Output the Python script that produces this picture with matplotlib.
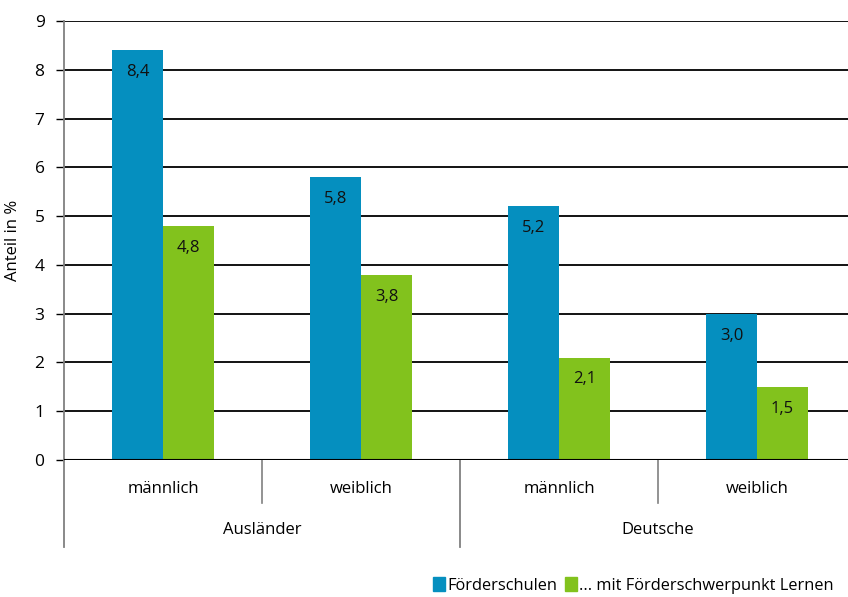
import matplotlib.pyplot as plt
import matplotlib.patches as mpatches
import matplotlib.transforms as mtransforms
import numpy as np

plt.rcParams['font.family'] = ['Open Sans', 'DejaVu Sans']

# ── Daten ─────────────────────────────────
untergruppen = ['männlich', 'weiblich', 'männlich', 'weiblich']
gruppen = ['Ausländer', 'Deutsche']
foerderschulen = [8.4, 5.8, 5.2, 3.0]
lernen = [4.8, 3.8, 2.1, 1.5]
serien = ['Förderschulen', '... mit Förderschwerpunkt Lernen']

c_blau = '#058fbf'
c_gruen = '#82c21d'

W, H = 848, 597
fig = plt.figure(figsize=(W / 100, H / 100), dpi=100)
ax = fig.add_axes([64 / W, 1 - 460 / H, 784 / W, (460 - 21) / H])

x = np.arange(len(untergruppen))
bw = 51 / 198
b1 = ax.bar(x - bw / 2, foerderschulen, bw, color=c_blau, zorder=3)
b2 = ax.bar(x + bw / 2, lernen, bw, color=c_gruen, zorder=3)

for bars, vals in [(b1, foerderschulen), (b2, lernen)]:
    for bar, v in zip(bars, vals):
        ax.annotate(f'{v:.1f}'.replace('.', ','),
                    (bar.get_x() + bar.get_width() / 2, v),
                    xytext=(0, -10), textcoords='offset points',
                    ha='center', va='top', fontsize=12, color='#111111', zorder=4)

ax.set_xlim(-0.5, -0.5 + 784 / 198)
ax.set_ylim(0, 9)
ax.set_yticks(range(10))
ax.tick_params(axis='y', labelsize=12.5, length=6, width=1, color='black', pad=8)
ax.set_xticks([])
ax.yaxis.grid(True, color='black', linewidth=1.3, zorder=0)
ax.set_axisbelow(True)
for s in ['top', 'right', 'bottom']:
    ax.spines[s].set_visible(False)
ax.spines['left'].set_color('#808080')
ax.spines['left'].set_linewidth(1.3)
ax.axhline(0, color='black', linewidth=1.5, zorder=4)
ax.set_ylabel('Anteil in %', fontsize=12, labelpad=10)

# Kategorie-Achse unterhalb
tr = mtransforms.blended_transform_factory(ax.transData, fig.transFigure)
sub_bottom = 1 - 503 / H
grp_bottom = 1 - 547 / H
y0 = 1 - 460 / H
for xs in [0.5, 2.5]:
    ax.plot([xs, xs], [y0, sub_bottom], transform=tr, color='#808080',
            linewidth=1.2, clip_on=False)
for xs in [-0.5, 1.5]:
    ax.plot([xs, xs], [y0, grp_bottom], transform=tr, color='#808080',
            linewidth=1.3, clip_on=False)
for xi, lab in zip(x, untergruppen):
    ax.text(xi, 1 - 489 / H, lab, transform=tr, ha='center', va='center',
            fontsize=12)
for gi, lab in enumerate(gruppen):
    ax.text(2 * gi + 0.5, 1 - 530 / H, lab, transform=tr, ha='center',
            va='center', fontsize=12)

handles = [mpatches.Patch(color=c_blau, label=serien[0]),
           mpatches.Patch(color=c_gruen, label=serien[1])]
fig.legend(handles=handles, loc='lower left', bbox_to_anchor=(430 / W, 0.0),
           ncol=2, frameon=False, fontsize=11.8, handlelength=0.7,
           handleheight=0.9, handletextpad=0.15, columnspacing=0.5,
           borderpad=0.2, borderaxespad=0.0)

plt.savefig('out.png', dpi=100)
